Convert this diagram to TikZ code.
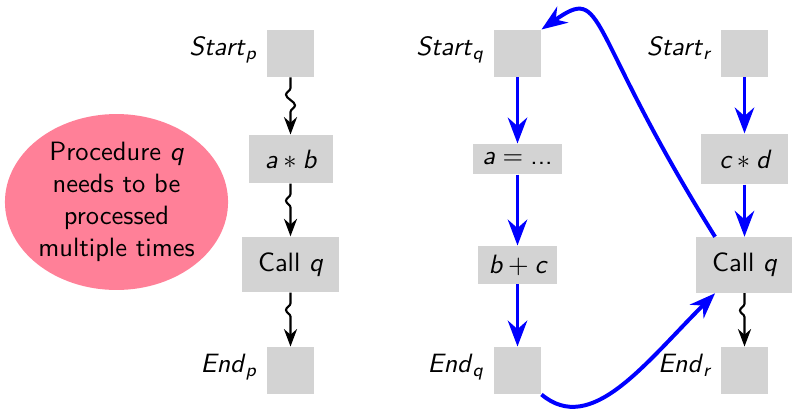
\documentclass[tikz,border=0pt]{standalone}
\usepackage{amsmath}
\usetikzlibrary{arrows.meta,decorations.pathmorphing,shapes.geometric}
\renewcommand{\familydefault}{\sfdefault}
\definecolor{boxgray}{RGB}{211,211,211}
\definecolor{procpink}{RGB}{255,128,152}
\definecolor{callblue}{RGB}{0,0,255}
\newcommand{\vv}[1]{\textit{#1}}
\begin{document}
\begin{tikzpicture}[x=0.3774pt, y=0.3774pt,
  blk/.style={fill=boxgray, inner sep=1pt},
  emptyblk/.style={blk, minimum width=17.7pt, minimum height=17.7pt},
  blklabel/.style={label={[anchor=base east, yshift=-0.6pt]west:#1}},
  squig/.style={thick, -{Stealth}, decorate,
    decoration={snake, mirror, segment length=8pt, amplitude=1.7pt,
                pre length=4pt, post length=8pt}},
  bluearrow/.style={callblue, line width=1.5pt, -{Stealth}}]
\useasboundingbox (0,0) rectangle (792,-409);

% note on the left
\node[ellipse, fill=procpink, minimum width=84.2pt, minimum height=66.4pt,
      inner sep=0pt] (procshape) at (116.5,-202) {};
\node[align=center, inner sep=0pt] (proctext) at (procshape)
  {Procedure $\vv{q}$\\needs to be\\processed\\multiple times};

% procedure p
\node[emptyblk, blklabel={\vv{Start}$_{\vv{p}}$}] (sp) at (290.5,-53.5) {};
\node[blk, minimum width=31.7pt, minimum height=18.1pt] (ab) at (290.5,-159) {$\vv{a} * \vv{b}$};
\node[blk, minimum width=36.8pt, minimum height=20.9pt] (callp) at (290.5,-264.5) {Call $\vv{q}$};
\node[emptyblk, blklabel={\vv{End}$_{\vv{p}}$}] (ep) at (290.5,-370.5) {};

% procedure q
\node[emptyblk, blklabel={\vv{Start}$_{\vv{q}}$}] (sq) at (517.5,-53.5) {};
\node[blk, minimum width=33.6pt, minimum height=11.3pt] (aq) at (517.5,-159) {$\vv{a} = \text{...}$};
\node[blk, minimum width=29.8pt, minimum height=14.3pt] (bc) at (517.5,-265) {$\vv{b} + \vv{c}$};
\node[emptyblk, blklabel={\vv{End}$_{\vv{q}}$}] (eq) at (517.5,-370.5) {};

% procedure r
\node[emptyblk, blklabel={\vv{Start}$_{\vv{r}}$}] (sr) at (744.5,-53.5) {};
\node[blk, minimum width=33.2pt, minimum height=18.9pt] (cd) at (744.5,-159) {$\vv{c} * \vv{d}$};
\node[blk, minimum width=36.8pt, minimum height=20.9pt] (callr) at (744.5,-265) {Call $\vv{q}$};
\node[emptyblk, blklabel={\vv{End}$_{\vv{r}}$}] (er) at (744.5,-370.5) {};

% control flow of p and r (not followed)
\draw[squig] (sp.south) -- (ab.north);
\draw[squig] (ab.south) -- (callp.north);
\draw[squig] (callp.south) -- (ep.north);
\draw[squig] (callr.south) -- (er.north);

% control flow of q and r
\draw[bluearrow] (sq.south) -- (aq.north);
\draw[bluearrow] (aq.south) -- (bc.north);
\draw[bluearrow] (bc.south) -- (eq.north);
\draw[bluearrow] (sr.south) -- (cd.north);
\draw[bluearrow] (cd.south) -- (callr.north);

% call and return edges
\draw[bluearrow] ([xshift=-11.1pt]callr.north)
  to[out=122, in=35, out distance=94pt, in distance=30pt] (sq.north east);
\draw[bluearrow] (eq.south east)
  to[out=-40, in=225, out distance=24.5pt, in distance=37.7pt] ([xshift=-11.1pt]callr.south);
\end{tikzpicture}
\end{document}
